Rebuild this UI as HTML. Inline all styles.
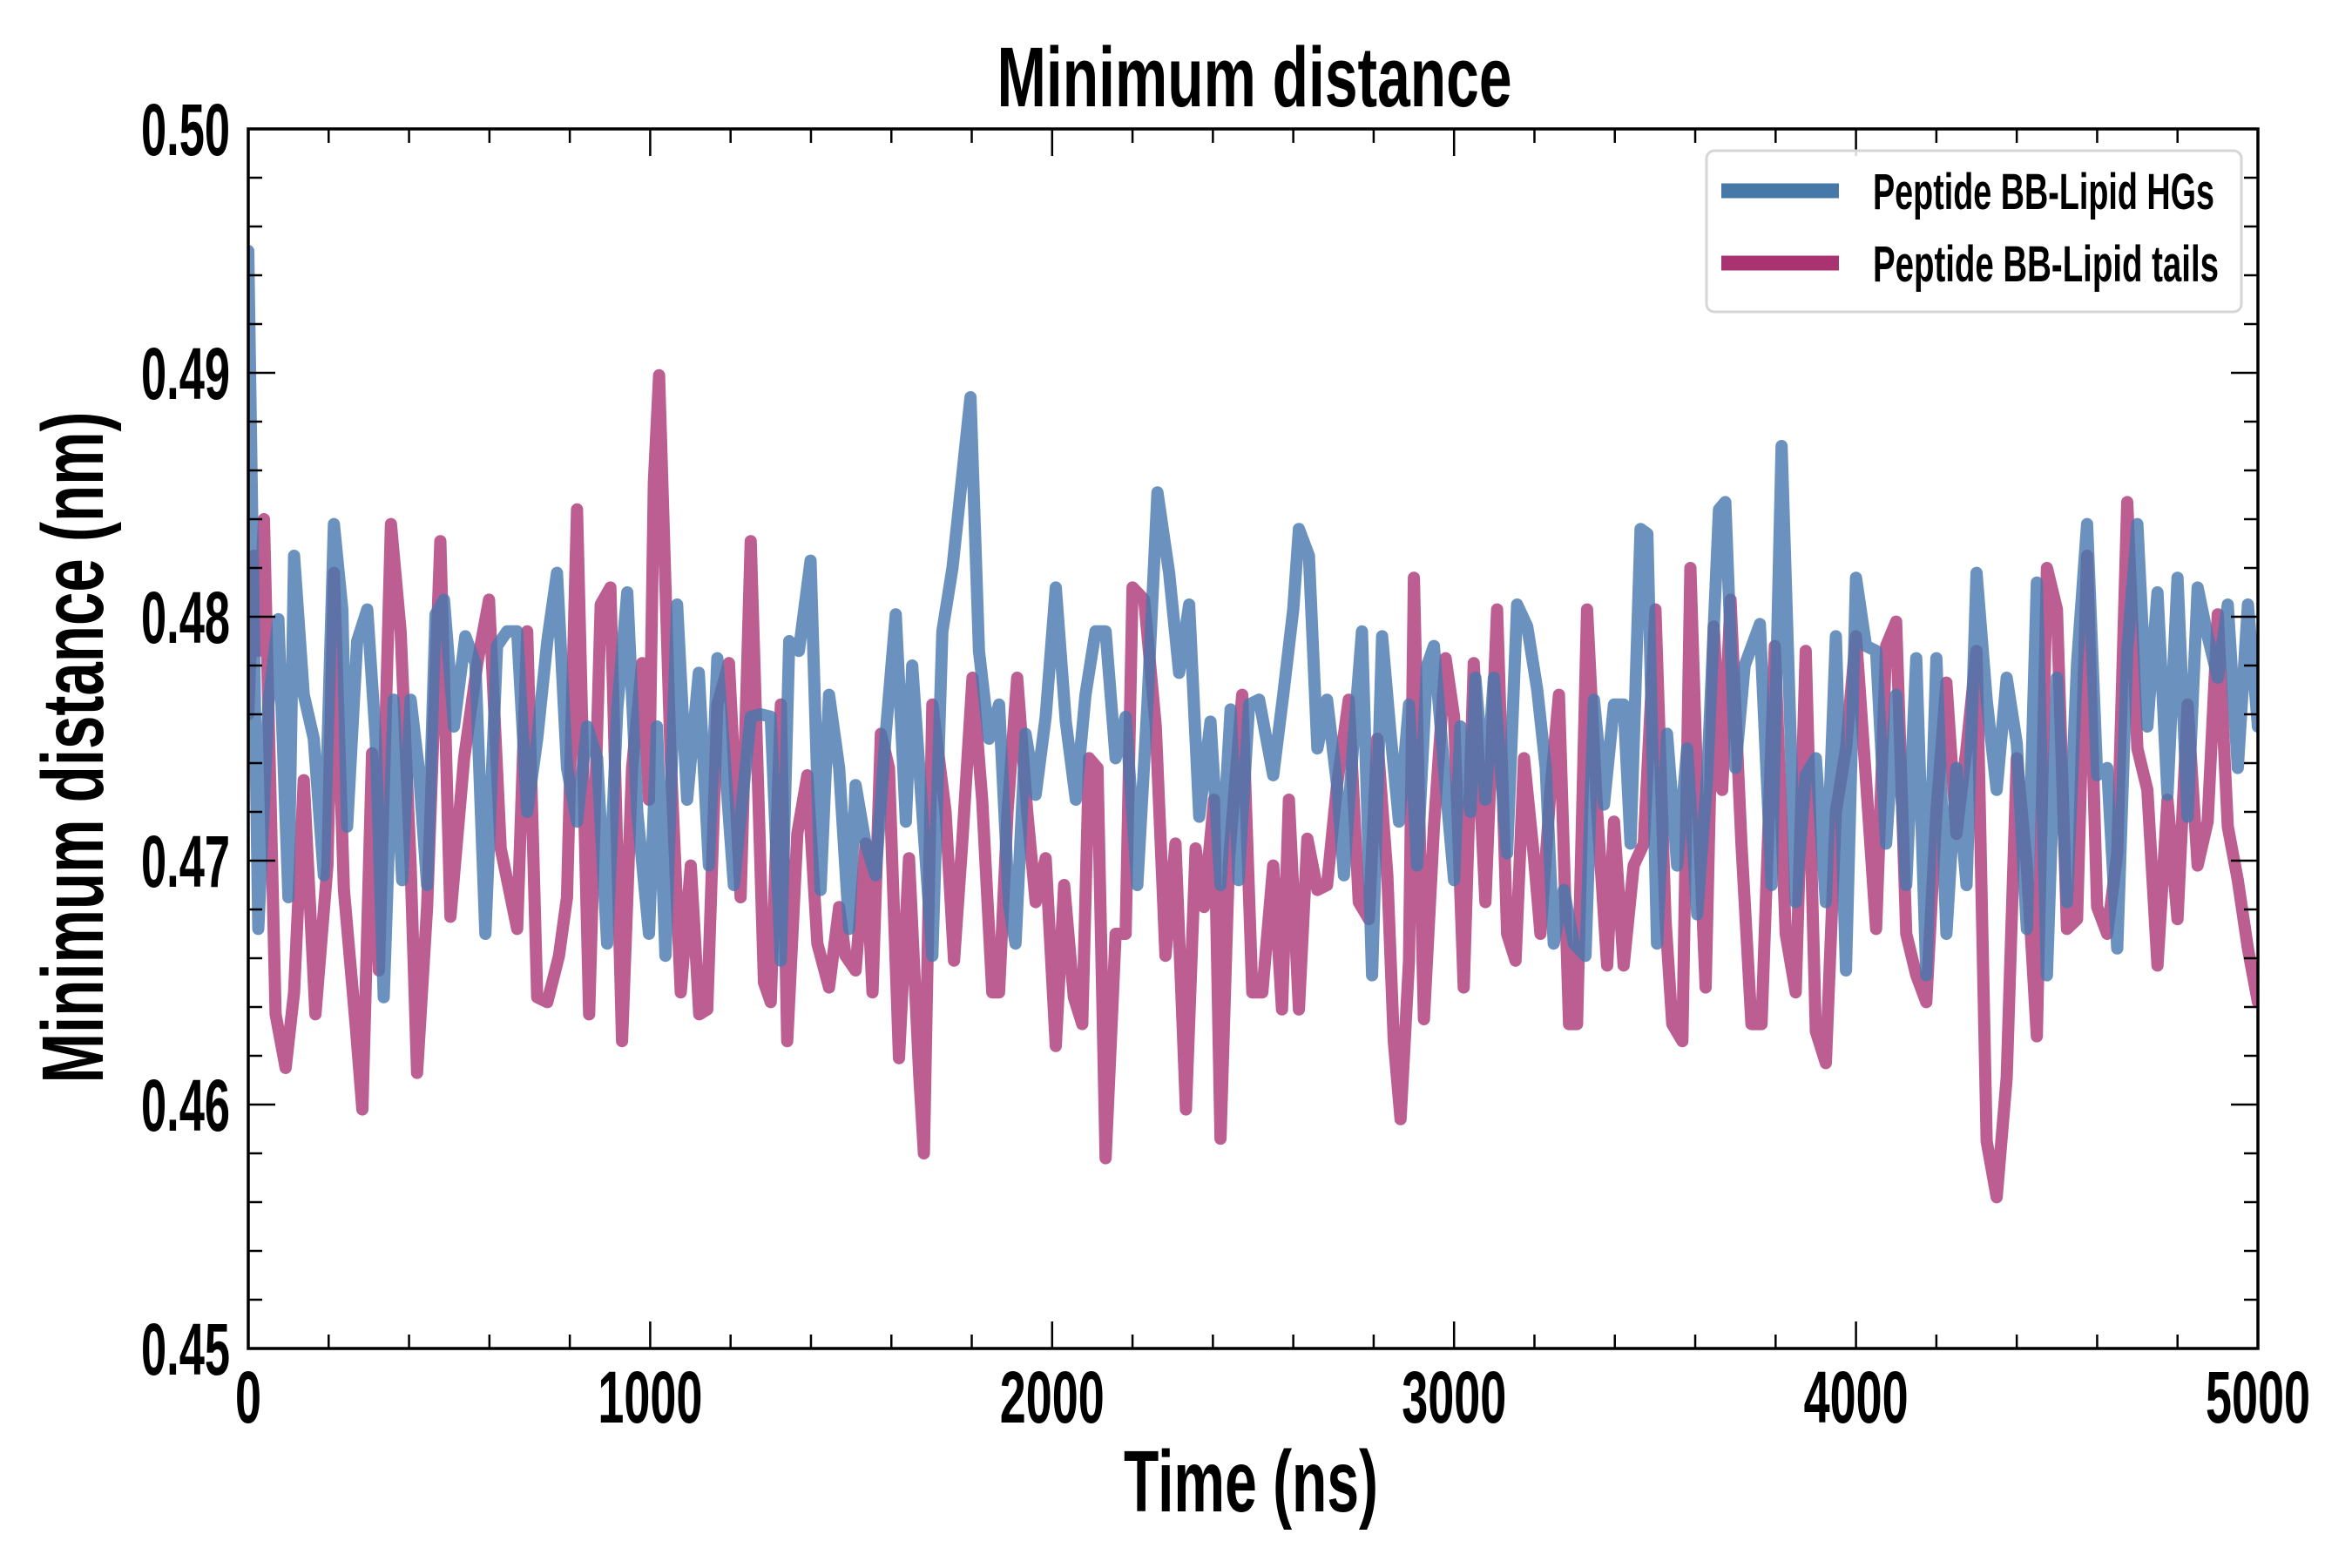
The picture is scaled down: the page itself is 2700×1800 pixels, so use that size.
<!DOCTYPE html>
<html>
<head>
<meta charset="utf-8">
<style>
  html, body { margin: 0; padding: 0; background: #fff; }
  svg { display: block; }
  text { font-family: "Liberation Sans Narrow", "Liberation Sans", sans-serif; font-weight: bold; fill: #000; }
</style>
</head>
<body>
<svg id="chart" width="2700" height="1800" viewBox="0 0 2700 1800" xmlns="http://www.w3.org/2000/svg">
  <rect x="0" y="0" width="2700" height="1800" fill="#ffffff"/>
  <text x="1440" y="122" font-size="97" text-anchor="middle" textLength="591" lengthAdjust="spacingAndGlyphs">Minimum distance</text>
  <text x="1436" y="1735" font-size="100" text-anchor="middle" textLength="292" lengthAdjust="spacingAndGlyphs">Time (ns)</text>
  <text transform="translate(118,858) rotate(-90)" x="0" y="0" font-size="100" text-anchor="middle" textLength="771" lengthAdjust="spacingAndGlyphs">Minimum distance (nm)</text>
  <g id="series"></g>
  <g id="axes"></g>
  <g>
    <rect x="1959" y="173" width="614" height="185" rx="9" ry="9" fill="#ffffff" fill-opacity="0.85" stroke="#d6d6d6" stroke-width="3"/>
    <line x1="1976" y1="219" x2="2111" y2="219" stroke="#4678a8" stroke-width="17"/>
    <text x="2150" y="240" font-size="58" textLength="392" lengthAdjust="spacingAndGlyphs">Peptide BB-Lipid HGs</text>
    <line x1="1976" y1="302" x2="2111" y2="302" stroke="#a83370" stroke-width="17"/>
    <text x="2150" y="323" font-size="58" textLength="397" lengthAdjust="spacingAndGlyphs">Peptide BB-Lipid tails</text>
  </g>
</svg>
<script>
const xTickValues = [0, 1000, 2000, 3000, 4000, 5000];
const xTickLabels = ["0", "1000", "2000", "3000", "4000", "5000"];
const yTickValues = [0.45, 0.46, 0.47, 0.48, 0.49, 0.50];
const yTickLabels = ["0.45", "0.46", "0.47", "0.48", "0.49", "0.50"];

const hgTime = [0,25,50,75,100,114,138,163,188,213,234,246,271,296,317,337,362,383,404,424,445,466,487,512,540,565,590,619,644,669,694,719,744,768,793,818,843,868,893,918,943,968,997,1017,1038,1067,1092,1121,1146,1167,1208,1250,1275,
1300,1325,1346,1370,1399,1424,1445,1470,1495,1511,1536,1561,1586,1611,1636,1652,1677,1702,1727,1752,1797,1818,1843,1868,1893,1909,1934,1959,1984,2009,2034,2059,2083,2108,2133,2158,2183,2212,2237,2262,2291,2316,2341,2366,2394,2419,2444,2464,2490,2515,
2550,2575,2600,2614,2639,2660,2684,2709,2726,2751,2771,2796,2821,2842,2863,2888,2908,2933,2950,2975,3000,3016,3041,3053,3078,3099,3132,3157,3182,3207,3228,3248,3273,3298,3327,3348,3373,3398,3422,3439,3464,3481,3505,3530,3555,3580,3605,3630,3659,3675,3700,
3723,3761,3790,3815,
3850,3875,3900,3925,3950,3975,4000,4025,4050,4075,4100,4125,4150,4175,4200,4225,4250,4275,4300,4325,4350,4375,4400,4425,4450,4475,4500,4525,4550,4575,4600,4625,4650,4675,4700,4725,4750,4775,4800,4825,4850,4875,4900,4925,4950,4975,5000];
const hgDist = [0.4950,0.4672,0.4764,0.4799,0.4685,0.4825,0.4768,0.4750,0.4694,0.4838,0.4803,0.4714,0.4790,0.4803,0.4750,0.4644,0.4766,0.4692,0.4766,0.4738,0.4690,0.4801,0.4807,0.4755,0.4792,0.4781,0.4670,0.4788,0.4794,0.4794,0.4720,0.4750,0.4790,0.4818,0.4738,0.4716,0.4755,0.4742,0.4666,0.4762,0.4810,0.4720,0.4670,0.4755,0.4661,0.4805,0.4725,0.4777,0.4698,0.4783,0.4690,0.4759,0.4760,
0.4759,0.4659,0.4790,0.4786,0.4823,0.4688,0.4768,0.4738,0.4672,0.4731,0.4707,0.4694,0.4752,0.4801,0.4716,0.4780,0.4720,0.4661,0.4794,0.4820,0.4890,0.4786,0.4750,0.4764,0.4681,0.4666,0.4752,0.4727,0.4759,0.4812,0.4757,0.4725,0.4768,0.4794,0.4794,0.4742,0.4759,0.4690,0.4764,0.4851,0.4818,0.4777,0.4805,0.4718,0.4757,0.4690,0.4762,0.4692,0.4764,0.4766,
0.4735,0.4768,0.4803,0.4836,0.4825,0.4746,0.4766,0.4731,0.4694,0.4752,0.4794,0.4653,0.4792,0.4752,0.4716,0.4764,0.4698,0.4780,0.4788,0.4738,0.4692,0.4755,0.4720,0.4775,0.4725,0.4775,0.4703,0.4805,0.4796,0.4770,0.4738,0.4666,0.4688,0.4666,0.4661,0.4766,0.4723,0.4764,0.4764,0.4707,0.4836,0.4834,0.4666,0.4752,0.4698,0.4746,0.4678,0.4735,0.4844,0.4847,0.4738,
0.4780,0.4797,0.4690,0.4870,
0.4683,0.4735,0.4742,0.4683,0.4792,0.4655,0.4816,0.4788,0.4786,0.4707,0.4768,0.4690,0.4783,0.4653,0.4783,0.4670,0.4738,0.4690,0.4818,0.4766,0.4729,0.4775,0.4748,0.4672,0.4814,0.4653,0.4775,0.4683,0.4781,0.4838,0.4735,0.4738,0.4664,0.4786,0.4838,0.4755,0.4810,0.4727,0.4816,0.4718,0.4812,0.4792,0.4775,0.4805,0.4738,0.4805,0.4755];

const tailTime = [0,14,25,39,68,93,114,138,167,197,213,238,267,284,308,325,355,379,404,420,445,478,503,537,570,599,628,669,694,719,744,773,793,818,848,877,901,930,955,980,997,1009,1022,1051,1076,1101,1122,1142,1167,1196,1225,1250,1283,
1300,1325,1341,1366,1391,1416,1445,1470,1486,1511,1536,1553,1574,1594,1619,1644,1669,1681,1702,1735,1756,1777,1802,1826,1851,1868,1889,1913,1938,1959,1984,2009,2030,2054,2075,2092,2113,2133,2158,2183,2200,2229,2258,2282,2307,2333,2357,2378,2403,2419,
2440,2473,2498,2523,
2550,2572,2589,2614,2635,2660,2684,2709,2738,2763,2788,2809,2834,2850,2867,2888,2900,2925,2950,2979,3000,3024,3049,3078,3107,3132,3153,3174,3199,3215,3240,3261,3286,3306,3331,3356,3381,3398,3422,3447,3472,3501,3526,3543,3568,3588,3605,3626,3646,3667,3688,
3715,3740,3765,3798,3825,
3850,3875,3900,3925,3950,3975,4000,4025,4050,4075,4100,4125,4150,4175,4200,4225,4250,4275,4300,4325,4350,4375,4400,4425,4450,4475,4500,4525,4550,4575,4600,4625,4650,4675,4700,4725,4750,4775,4800,4825,4850,4875,4900,4925,4950,4975,5000];
const tailDist = [0.4760,0.4825,0.4786,0.4840,0.4637,0.4615,0.4646,0.4733,0.4637,0.4698,0.4818,0.4688,0.4633,0.4598,0.4744,0.4655,0.4838,0.4794,0.4698,0.4613,0.4681,0.4831,0.4677,0.4742,0.4781,0.4807,0.4705,0.4672,0.4794,0.4644,0.4642,0.4661,0.4685,0.4844,0.4637,0.4805,0.4812,0.4626,0.4738,0.4781,0.4725,0.4855,0.4899,0.4742,0.4646,0.4698,0.4637,0.4639,0.4764,0.4781,0.4685,0.4831,0.4650,
0.4642,0.4764,0.4626,0.4711,0.4735,0.4666,0.4648,0.4681,0.4661,0.4655,0.4707,0.4646,0.4752,0.4738,0.4619,0.4701,0.4613,0.4580,0.4764,0.4720,0.4659,0.4709,0.4775,0.4725,0.4646,0.4646,0.4720,0.4775,0.4720,0.4683,0.4701,0.4624,0.4690,0.4644,0.4633,0.4742,0.4738,0.4578,0.4670,0.4670,0.4812,0.4807,0.4755,0.4661,0.4707,0.4598,0.4705,0.4681,0.4725,0.4586,
0.4700,0.4768,0.4646,0.4646,
0.4698,0.4639,0.4725,0.4639,0.4709,0.4688,0.4690,0.4731,0.4766,0.4683,0.4676,0.4750,0.4694,0.4626,0.4594,0.4659,0.4816,0.4635,0.4714,0.4783,0.4759,0.4648,0.4781,0.4683,0.4803,0.4670,0.4659,0.4742,0.4701,0.4670,0.4729,0.4768,0.4633,0.4633,0.4803,0.4720,0.4657,0.4716,0.4657,0.4698,0.4707,0.4803,0.4676,0.4633,0.4626,0.4820,0.4731,0.4648,0.4796,0.4729,0.4807,
0.4707,0.4633,0.4633,0.4788,0.4670,
0.4646,0.4786,0.4630,0.4617,0.4720,0.4746,0.4792,0.4733,0.4672,0.4788,0.4798,0.4670,0.4653,0.4642,0.4720,0.4773,0.4711,0.4746,0.4786,0.4585,0.4562,0.4611,0.4742,0.4698,0.4628,0.4820,0.4803,0.4672,0.4676,0.4825,0.4681,0.4670,0.4703,0.4847,0.4746,0.4729,0.4657,0.4725,0.4676,0.4764,0.4698,0.4716,0.4801,0.4714,0.4692,0.4664,0.4642];

const PL = 285, PR = 2592, PT = 148, PB = 1548;
const X_MIN = 0, X_MAX = 5000, Y_MIN = 0.45, Y_MAX = 0.50;
function xScale(t) { return PL + (t - X_MIN) / (X_MAX - X_MIN) * (PR - PL); }
function yScale(v) { return PB - (v - Y_MIN) / (Y_MAX - Y_MIN) * (PB - PT); }

const NS = "http://www.w3.org/2000/svg";
const seriesG = document.getElementById("series");
const axesG = document.getElementById("axes");

function makePath(times, vals, color, name) {
  let d = "";
  for (let i = 0; i < times.length; i++) {
    d += (i === 0 ? "M" : "L") + xScale(times[i]).toFixed(1) + "," + yScale(vals[i]).toFixed(1);
  }
  const p = document.createElementNS(NS, "path");
  p.setAttribute("d", d);
  p.setAttribute("fill", "none");
  p.setAttribute("stroke", color);
  p.setAttribute("stroke-opacity", "0.8");
  p.setAttribute("stroke-width", "14");
  p.setAttribute("stroke-linejoin", "round");
  p.setAttribute("stroke-linecap", "round");
  
  
  seriesG.appendChild(p);
}
makePath(tailTime, tailDist, "#ab3675", "line-lipid-tails");
makePath(hgTime, hgDist, "#4677ae", "line-lipid-hgs");

const clip = document.createElementNS(NS, "clipPath");
clip.setAttribute("id", "plotclip");
const cr = document.createElementNS(NS, "rect");
cr.setAttribute("x", PL); cr.setAttribute("y", PT);
cr.setAttribute("width", PR - PL); cr.setAttribute("height", PB - PT);
clip.appendChild(cr);
document.getElementById("chart").insertBefore(clip, seriesG);
seriesG.setAttribute("clip-path", "url(#plotclip)");

function addLine(x1, y1, x2, y2, w, name) {
  const l = document.createElementNS(NS, "line");
  l.setAttribute("x1", x1); l.setAttribute("y1", y1);
  l.setAttribute("x2", x2); l.setAttribute("y2", y2);
  l.setAttribute("stroke", "#000"); l.setAttribute("stroke-width", w);
  
  
  axesG.appendChild(l);
}
function addText(x, y, str, anchor, len, name) {
  const t = document.createElementNS(NS, "text");
  t.setAttribute("x", x); t.setAttribute("y", y);
  t.setAttribute("font-size", "84");
  t.setAttribute("text-anchor", anchor);
  t.setAttribute("textLength", len);
  t.setAttribute("lengthAdjust", "spacingAndGlyphs");
  t.textContent = str;
  
  
  axesG.appendChild(t);
}

for (let t = 0; t <= 5000; t += 200) {
  const x = xScale(t);
  const major = (t % 1000 === 0);
  const L = major ? 31 : 16;
  addLine(x, PB, x, PB - L, 2.5, "x-tick-bottom");
  addLine(x, PT, x, PT + L, 2.5, "x-tick-top");
}
for (let k = 0; k <= 25; k++) {
  const v = 0.45 + k * 0.002;
  const y = yScale(v);
  const major = (k % 5 === 0);
  const L = major ? 31 : 16;
  addLine(PL, y, PL + L, y, 2.5, "y-tick-left");
  addLine(PR, y, PR - L, y, 2.5, "y-tick-right");
}
for (let i = 0; i < xTickValues.length; i++) {
  const lab = xTickLabels[i];
  addText(xScale(xTickValues[i]), 1633, lab, "middle", lab.length * 30, "x-tick-label");
}
for (let i = 0; i < yTickValues.length; i++) {
  addText(264, yScale(yTickValues[i]) + 30, yTickLabels[i], "end", 102, "y-tick-label");
}
const frame = document.createElementNS(NS, "rect");
frame.setAttribute("x", PL); frame.setAttribute("y", PT);
frame.setAttribute("width", PR - PL); frame.setAttribute("height", PB - PT);
frame.setAttribute("fill", "none"); frame.setAttribute("stroke", "#000"); frame.setAttribute("stroke-width", "3.5");


axesG.appendChild(frame);
</script>
</body>
</html>
